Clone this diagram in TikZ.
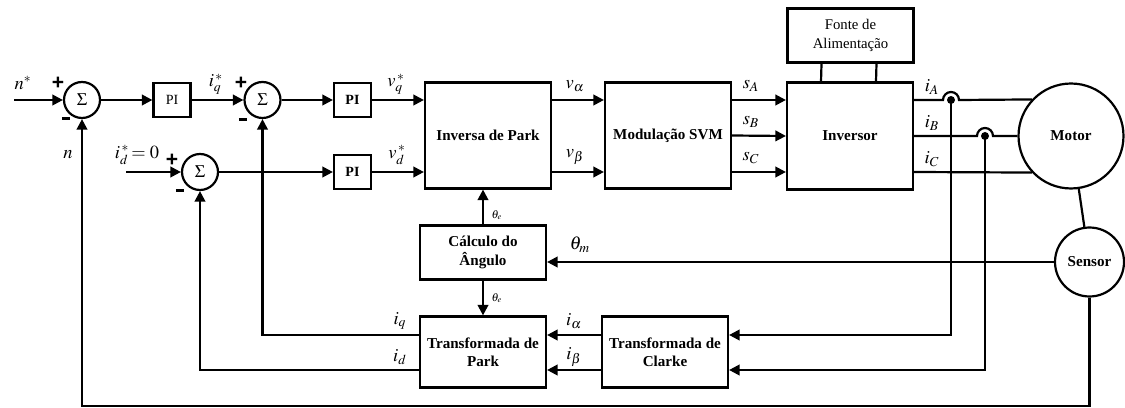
\documentclass[tikz,border=0pt]{standalone}
\usepackage{mathptmx}
\usepackage[no-math]{fontspec}
\setmainfont{Liberation Serif}
\newfontfamily\polofont{Liberation Sans}
\usetikzlibrary{calc, arrows.meta}

\begin{document}
\begin{tikzpicture}[
    x=0.02cm, y=-0.02cm,
    line width=1.25pt,
    bloco/.style={draw, line width=1.25pt, align=center, inner sep=2pt,
      font=\fontsize{8.6}{10.5}\selectfont\bfseries},
    soma/.style={draw, circle, line width=1.25pt, minimum size=0.72cm, inner sep=0pt,
      font=\fontsize{10}{12}\selectfont},
    maquina/.style={draw, circle, line width=1.25pt, inner sep=0pt,
      font=\fontsize{8.6}{10}\selectfont\bfseries},
    seta/.style={-{Triangle[length=6pt, width=6pt]}},
    sinal/.style={font=\fontsize{10.5}{12}\selectfont, inner sep=0pt},
    rotulo/.style={font=\fontsize{6.5}{7}\selectfont, inner sep=0pt},
    polo/.style={font=\polofont\fontsize{12}{12}\selectfont\bfseries, inner sep=0pt},
  ]
    \useasboundingbox (0,0) rectangle (1125,408);

    % somadores e controladores
    \node[soma] (sum1) at (82,100) {$\Sigma$};
    \node[bloco, font=\fontsize{8}{10}\selectfont, minimum width=0.74cm, minimum height=0.68cm] (piN) at (172,100) {PI};
    \node[soma] (sumq) at (262.5,100) {$\Sigma$};
    \node[bloco, font=\fontsize{8}{10}\selectfont\bfseries, minimum width=0.74cm, minimum height=0.68cm] (piq) at (352.5,100) {PI};
    \node[soma] (sumd) at (200,172) {$\Sigma$};
    \node[bloco, font=\fontsize{8}{10}\selectfont\bfseries, minimum width=0.74cm, minimum height=0.68cm] (pid) at (352.5,172) {PI};

    % blocos principais
    \node[bloco, minimum width=2.52cm, minimum height=2.12cm] (invpark) at (488,135.5) {Inversa de Park};
    \node[bloco, minimum width=2.52cm, minimum height=2.12cm] (svm) at (668,135.5) {Modulação SVM};
    \node[bloco, minimum width=2.52cm, minimum height=2.14cm] (inversor) at (850,136) {Inversor};
    \node[bloco, font=\fontsize{8.4}{10.5}\selectfont, minimum width=2.52cm, minimum height=1.08cm] (fonte) at (850.5,35.5) {Fonte de\\Alimentação};
    \node[bloco, minimum width=2.52cm, minimum height=1.08cm] (angulo) at (483,252.5) {Cálculo do\\Ângulo};
    \node[bloco, minimum width=2.52cm, minimum height=1.42cm] (park) at (483,352) {Transformada de\\Park};
    \node[bloco, minimum width=2.52cm, minimum height=1.42cm] (clarke) at (665,352) {Transformada de\\Clarke};
    \node[maquina, minimum size=2.1cm] (motor) at (1071,136) {Motor};
    \node[maquina, minimum size=1.38cm] (sensor) at (1089.5,262) {Sensor};

    % pontos auxiliares
    \coordinate (nin) at (14,100);
    \coordinate (idin) at (126,172);
    \coordinate (hopA) at (951,100);
    \coordinate (hopB) at (985,136);
    \coordinate (ialpha) at (0,335);
    \coordinate (ibeta) at (0,370);
    \coordinate (base) at (0,406);

    % malha direta
    \draw[seta] (nin) -- (sum1);
    \draw[seta] (sum1) -- (piN);
    \draw[seta] (piN) -- (sumq);
    \draw[seta] (sumq) -- (piq);
    \draw[seta] (piq) -- (piq -| invpark.west);
    \draw[seta] (idin) -- (sumd);
    \draw[seta] (sumd) -- (pid);
    \draw[seta] (pid) -- (pid -| invpark.west);
    \draw[seta] (invpark.east |- piq) -- (svm.west |- piq);
    \draw[seta] (invpark.east |- pid) -- (svm.west |- pid);
    \draw[seta] (svm.east |- piq) -- (inversor.west |- piq);
    \draw[seta] (svm.east) -- (inversor.west);
    \draw[seta] (svm.east |- pid) -- (inversor.west |- pid);
    \draw ([xshift=-0.58cm]fonte.south) -- ([xshift=-0.58cm]inversor.north);
    \draw ([xshift=0.52cm]fonte.south) -- ([xshift=0.52cm]inversor.north);

    % fases do motor
    \draw (inversor.east |- hopA) -- ($(hopA)+(-8,0)$) arc[start angle=180, end angle=360, radius=8] -- (motor.137);
    \draw (inversor.east) -- ($(hopB)+(-8,0)$) arc[start angle=180, end angle=360, radius=8] -- (motor.west);
    \draw (inversor.east |- pid) -- (motor.223);
    \fill (hopA) circle[radius=4];
    \fill (hopB) circle[radius=4];
    \draw (motor) -- (sensor);

    % realimentacao
    \draw[seta] (hopA) |- (clarke.east |- ialpha);
    \draw[seta] (hopB) |- (clarke.east |- ibeta);
    \draw[seta] (clarke.west |- ialpha) -- (park.east |- ialpha);
    \draw[seta] (clarke.west |- ibeta) -- (park.east |- ibeta);
    \draw[seta] (park.west |- ialpha) -| (sumq.south);
    \draw[seta] (park.west |- ibeta) -| (sumd.south);
    \draw[seta] (sensor.west) -- (sensor.west -| angulo.east);
    \draw[seta] (angulo.north) -- (angulo.north |- invpark.south);
    \draw[seta] (angulo.south) -- (park.north);
    \draw[seta] (sensor.south) |- (sum1 |- base) -- (sum1.south);

    % rotulos
    \node[sinal] (lnref) at (23,83) {$n^{*}$};
    \node[sinal] (ln) at (68,155) {$n$};
    \node[sinal] (liqref) at (216,84) {$i_q^{\,*}$};
    \node[sinal] (lidref) at (137,155) {$i_d^{\,*}\!=0$};
    \node[sinal] (lvq) at (396,84) {$v_q^{\,*}$};
    \node[sinal] (lvd) at (397,155) {$v_d^{\,*}$};
    \node[sinal] (lva) at (575,86) {$v_\alpha$};
    \node[sinal] (lvb) at (575,157) {$v_\beta$};
    \node[sinal] (lsa) at (751,86) {$s_A$};
    \node[sinal] (lsb) at (751,122) {$s_B$};
    \node[sinal] (lsc) at (751,158) {$s_C$};
    \node[sinal] (lia) at (932,87) {$i_A$};
    \node[sinal] (lib) at (932,123) {$i_B$};
    \node[sinal] (lic) at (932,159) {$i_C$};
    \node[sinal] (ltm) at (580,245) {$\theta_m$};
    \node[rotulo] (lte1) at (497,215) {$\theta_e$};
    \node[rotulo] (lte2) at (497,298) {$\theta_e$};
    \node[sinal] (liq) at (400,321) {$i_q$};
    \node[sinal] (lid) at (400,357) {$i_d$};
    \node[sinal] (lial) at (574,321) {$i_\alpha$};
    \node[sinal] (libe) at (574,357) {$i_\beta$};

    % sinais dos somadores
    \node[polo] (p1) at (58,83) {+};
    \node[polo] (m1) at (66,121) {\rule[0.25em]{0.17cm}{1.6pt}};
    \node[polo] (p2) at (241,83) {+};
    \node[polo] (m2) at (243,122) {\rule[0.25em]{0.17cm}{1.6pt}};
    \node[polo] (p3) at (172,160) {+};
    \node[polo] (m3) at (180,193) {\rule[0.25em]{0.17cm}{1.6pt}};
  \end{tikzpicture}
\end{document}
